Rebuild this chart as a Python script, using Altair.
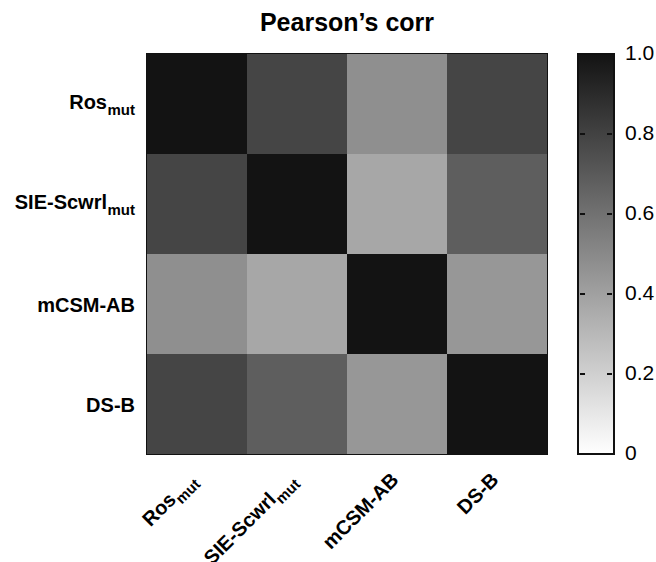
import altair as alt
import pandas as pd

categories = ["Ros_mut", "SIE-Scwrl_mut", "mCSM-AB", "DS-B"]
label_main = ["Ros", "SIE-Scwrl", "mCSM-AB", "DS-B"]
label_sub = ["mut", "mut", "", ""]
row_ros = [1.00, 0.75, 0.43, 0.75]
row_sie = [0.75, 1.00, 0.335, 0.64]
row_mcsm = [0.43, 0.335, 1.00, 0.40]
row_dsb = [0.75, 0.64, 0.40, 1.00]
bar_ticks = [0.2, 0.4, 0.6, 0.8]
bar_values = [0, 0.2, 0.4, 0.6, 0.8, 1.0]

rows = [row_ros, row_sie, row_mcsm, row_dsb]
cells = pd.DataFrame([
    {"row": categories[i], "col": categories[j], "r": rows[i][j]}
    for i in range(len(categories)) for j in range(len(categories))
])
labels = pd.DataFrame({"cat": categories, "main": label_main, "sub": label_sub})
ticks = pd.DataFrame({"v": bar_ticks})
bar_labels = pd.DataFrame({"v": bar_values})

FONT = "Liberation Sans"
W = H = 400
LOW, HIGH = "#ffffff", "#131313"

def band():
    return alt.Scale(domain=categories, paddingInner=0, paddingOuter=0)

def unit():
    return alt.Scale(domain=[0, 1])

heat = alt.Chart(cells).mark_rect().encode(
    x=alt.X("col:N", scale=band(), axis=None),
    y=alt.Y("row:N", scale=band(), axis=None),
    color=alt.Color("r:Q", scale=alt.Scale(domain=[0, 1], range=[LOW, HIGH]), legend=None),
)

txt = dict(font=FONT, fontWeight="bold", color="#000000")

y_main_sub = alt.Chart(labels).transform_filter("datum.sub != ''").mark_text(
    align="right", baseline="alphabetic", fontSize=20, dx=-28, dy=5, **txt
).encode(y=alt.Y("cat:N", scale=band(), axis=None), x=alt.value(-12), text="main:N")
y_sub = alt.Chart(labels).transform_filter("datum.sub != ''").mark_text(
    align="right", baseline="alphabetic", fontSize=15, dy=11, **txt
).encode(y=alt.Y("cat:N", scale=band(), axis=None), x=alt.value(-12), text="sub:N")
y_plain = alt.Chart(labels).transform_filter("datum.sub == ''").mark_text(
    align="right", baseline="alphabetic", fontSize=20, dy=8, **txt
).encode(y=alt.Y("cat:N", scale=band(), axis=None), x=alt.value(-12), text="main:N")

XA = H + 27
x_main_sub = alt.Chart(labels).transform_filter("datum.sub != ''").mark_text(
    align="right", baseline="alphabetic", fontSize=20, angle=315, dx=-28, dy=0, **txt
).encode(x=alt.X("cat:N", scale=band(), axis=None), y=alt.value(XA), text="main:N")
x_sub = alt.Chart(labels).transform_filter("datum.sub != ''").mark_text(
    align="right", baseline="alphabetic", fontSize=15, angle=315, dx=0, dy=6, **txt
).encode(x=alt.X("cat:N", scale=band(), axis=None), y=alt.value(XA), text="sub:N")
x_plain = alt.Chart(labels).transform_filter("datum.sub == ''").mark_text(
    align="right", baseline="alphabetic", fontSize=20, angle=315, dx=2, dy=2, **txt
).encode(x=alt.X("cat:N", scale=band(), axis=None), y=alt.value(XA), text="main:N")

# colour bar drawn as marks
bar = alt.Chart(bar_labels).mark_rect(
    stroke="#111111", strokeWidth=2,
    color=alt.LinearGradient(
        gradient="linear", x1=0, y1=1, x2=0, y2=0,
        stops=[alt.GradientStop(color=LOW, offset=0), alt.GradientStop(color=HIGH, offset=1)],
    ),
).encode(
    x=alt.value(W + 31), x2=alt.value(W + 67), y=alt.value(0), y2=alt.value(H),
)
tick_l = alt.Chart(ticks).mark_rule(color="#111111", strokeWidth=2).encode(
    y=alt.Y("v:Q", scale=unit(), axis=None),
    x=alt.value(W + 33), x2=alt.value(W + 38),
)
tick_r = alt.Chart(ticks).mark_rule(color="#111111", strokeWidth=2).encode(
    y=alt.Y("v:Q", scale=unit(), axis=None),
    x=alt.value(W + 60), x2=alt.value(W + 65),
)
bar_text = alt.Chart(bar_labels).transform_calculate(
    lab="datum.v == 0 ? '0' : format(datum.v, '.1f')"
).mark_text(
    align="left", baseline="middle", font=FONT, fontSize=21, color="#000000",
).encode(
    y=alt.Y("v:Q", scale=unit(), axis=None), x=alt.value(W + 78), text="lab:N",
)

chart = alt.layer(
    heat, y_main_sub, y_sub, y_plain, x_main_sub, x_sub, x_plain,
    bar, tick_l, tick_r, bar_text,
).resolve_scale(y="independent", x="independent").properties(
    width=W, height=H,
    title=alt.TitleParams(
        "Pearson’s corr", font=FONT, fontSize=25, fontWeight="bold", color="#000000",
        anchor="middle", frame="group", baseline="alphabetic", offset=-13,
    ),
    autosize=alt.AutoSizeParams(type="none"),
    padding={"left": 147, "top": 54, "right": 109, "bottom": 108},
).configure_view(stroke="#111111", strokeWidth=2)

chart.save("out.html", embed_options={"renderer": "svg", "actions": False})
